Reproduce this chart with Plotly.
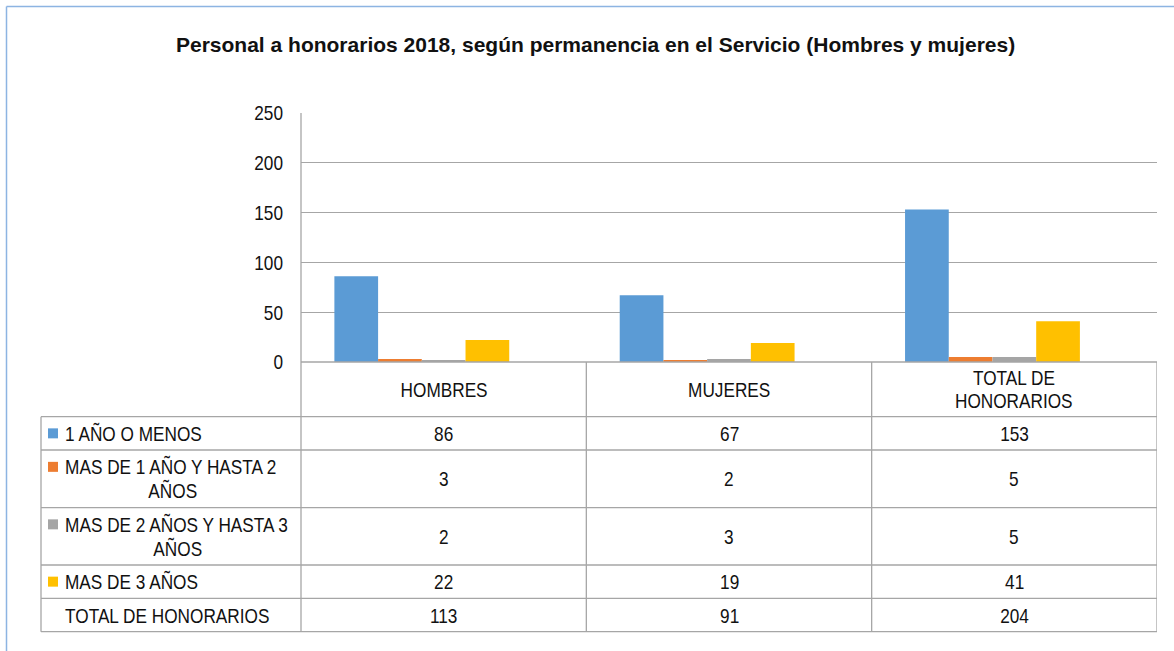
import plotly.graph_objects as go

# ---------------- data ----------------
categories = ["HOMBRES", "MUJERES", "TOTAL DE HONORARIOS"]
category_labels = ["HOMBRES", "MUJERES", "TOTAL DE<br>HONORARIOS"]
series_names = ["1 AÑO O MENOS", "MAS DE 1 AÑO Y HASTA 2 AÑOS",
                "MAS DE 2 AÑOS Y HASTA 3 AÑOS", "MAS DE 3 AÑOS", "TOTAL DE HONORARIOS"]
series_labels = ["1 AÑO O MENOS", "MAS DE 1 AÑO Y HASTA 2<br>AÑOS",
                 "MAS DE 2 AÑOS Y HASTA 3<br>AÑOS", "MAS DE 3 AÑOS", "TOTAL DE HONORARIOS"]
one_year_or_less = [86, 67, 153]
one_to_two_years = [3, 2, 5]
two_to_three_years = [2, 3, 5]
over_three_years = [22, 19, 41]
total_honorarios = [113, 91, 204]
y_ticks = [0, 50, 100, 150, 200, 250]
title_text = "Personal a honorarios 2018, según permanencia en el Servicio (Hombres y mujeres)"

series_values = [one_year_or_less, one_to_two_years, two_to_three_years, over_three_years, total_honorarios]
# the total series is plotted without fill (as in the original)
colors = ["#5b9bd5", "#ed7d31", "#a5a5a5", "#ffc000", "rgba(0,0,0,0)"]
has_key = [True, True, True, True, False]

# ---------------- geometry (pixels) ----------------
W, H = 1174, 651
PL, PR, PT, PB = 301, 1157, 113, 362
TABLE_LEFT = 41
LABEL_X = 63
row_edges = [362, 416.7, 450, 507.7, 565, 598.3, 631.7]
second_line_centers = {1: 172.5, 2: 178}
FONT = "Liberation Sans, Arial, sans-serif"
FS = 21
TXT = "#111111"
LINE = "#a6a6a6"


def px(x):
    return (x - PL) / (PR - PL)


def py(y):
    return (PB - y) / (PB - PT)


fig = go.Figure()
for name, vals, col in zip(series_names, series_values, colors):
    fig.add_trace(go.Bar(x=categories, y=vals, name=name,
                         marker=dict(color=col, line=dict(width=0))))

shapes = []
LW = 1.3
shapes.append(dict(type="line", xref="paper", yref="paper", x0=0, x1=1,
                   y0=py(row_edges[0]), y1=py(row_edges[0]), line=dict(color=LINE, width=LW)))
for yy in row_edges[1:]:
    shapes.append(dict(type="line", xref="paper", yref="paper", x0=px(TABLE_LEFT), x1=1,
                       y0=py(yy), y1=py(yy), line=dict(color=LINE, width=LW)))
shapes.append(dict(type="line", xref="paper", yref="paper", x0=px(TABLE_LEFT), x1=px(TABLE_LEFT),
                   y0=py(row_edges[1]), y1=py(row_edges[-1]), line=dict(color=LINE, width=LW)))
shapes.append(dict(type="line", xref="paper", yref="paper", x0=0, x1=0,
                   y0=1, y1=py(row_edges[-1]), line=dict(color=LINE, width=LW)))
for i in range(len(categories)):
    shapes.append(dict(type="line", xref="x", yref="paper", x0=i + 0.5, x1=i + 0.5,
                       y0=py(row_edges[0]), y1=py(row_edges[-1]), line=dict(color=LINE, width=LW)))
# outer light-blue frame (top and left)
shapes.append(dict(type="line", xref="paper", yref="paper", x0=px(6.5), x1=px(W + 20),
                   y0=py(6.5), y1=py(6.5), line=dict(color="#8db4e2", width=1.5)))
shapes.append(dict(type="line", xref="paper", yref="paper", x0=px(6.5), x1=px(6.5),
                   y0=py(6.5), y1=py(H + 20), line=dict(color="#8db4e2", width=1.5)))

annotations = []
annotations.append(dict(name="title", text="<b>" + title_text + "</b>", xref="paper", yref="paper",
                        x=px(595), y=py(45), showarrow=False, xanchor="center", yanchor="middle",
                        font=dict(family=FONT, size=FS, color=TXT)))


def add_text(text, xref, x, y, xanchor="center"):
    annotations.append(dict(name="body", text=text, xref=xref, yref="paper", x=x, y=py(y),
                            showarrow=False, xanchor=xanchor, yanchor="middle", align="center",
                            font=dict(family=FONT, size=FS, color=TXT)))


# category header row
hdr_mid = (row_edges[0] + row_edges[1]) / 2
for i, lab in enumerate(category_labels):
    parts = lab.split("<br>")
    if len(parts) == 1:
        add_text(parts[0], "x", i, hdr_mid)
    else:
        add_text(parts[0], "x", i, hdr_mid - 11.5)
        add_text(parts[1], "x", i, hdr_mid + 11.5)

for r, (lab, vals) in enumerate(zip(series_labels, series_values)):
    top, bot = row_edges[r + 1], row_edges[r + 2]
    mid = (top + bot) / 2
    parts = lab.split("<br>")
    if len(parts) == 1:
        first_line = mid
        add_text(parts[0], "paper", px(LABEL_X), mid, xanchor="left")
    else:
        first_line = mid - 12
        add_text(parts[0], "paper", px(LABEL_X), mid - 12, xanchor="left")
        add_text(parts[1], "paper", px(second_line_centers[r]), mid + 12, xanchor="center")
    for i, v in enumerate(vals):
        add_text(str(v), "x", i, mid)
    if has_key[r]:
        shapes.append(dict(type="rect", xref="paper", yref="paper", x0=px(48), x1=px(58),
                           y0=py(first_line - 5), y1=py(first_line + 5),
                           fillcolor=colors[r], line=dict(width=0)))

fig.update_layout(
    width=W, height=H,
    margin=dict(l=PL, r=W - PR, t=PT, b=H - PB, pad=0),
    paper_bgcolor="white", plot_bgcolor="white",
    barmode="group", bargap=0.234, bargroupgap=0,
    showlegend=False,
    font=dict(family=FONT, size=FS, color=TXT),
    xaxis=dict(showticklabels=False, showgrid=False, zeroline=False, showline=False, ticks="",
               range=[-0.5, len(categories) - 0.5]),
    yaxis=dict(range=[0, 250], tickvals=y_ticks, showgrid=True, gridcolor=LINE, gridwidth=1,
               zeroline=False, showline=False, ticks="", ticklabelstandoff=17,
               tickfont=dict(family=FONT, size=FS, color=TXT)),
    shapes=shapes,
    annotations=annotations,
)

# body text of the original uses a narrow face (Arial Narrow); emulate it by
# horizontally condensing the Liberation Sans glyphs.
post = """
var gd = document.getElementById('{plot_id}');
var K = 0.82;
function squeeze(t, mode){
  var b = t.getBBox();
  var ox = mode === 'left' ? b.x : (mode === 'right' ? b.x + b.width : b.x + b.width / 2);
  var prev = t.getAttribute('transform') || '';
  t.setAttribute('transform', prev + ' translate(' + ox + ',0) scale(' + K + ',1) translate(' + (-ox) + ',0)');
}
var anns = gd.layout.annotations || [];
gd.querySelectorAll('g.annotation').forEach(function(g){
  var a = anns[+g.getAttribute('data-index')];
  if (!a || a.name === 'title') return;
  var t = g.querySelector('text.annotation-text');
  if (t) squeeze(t, a.xanchor);
});
gd.querySelectorAll('g.ytick text').forEach(function(t){ squeeze(t, 'right'); });
document.body.style.margin = '0';
document.body.style.overflow = 'hidden';
"""

fig.write_html("out.html", config={"displayModeBar": False}, post_script=post)
